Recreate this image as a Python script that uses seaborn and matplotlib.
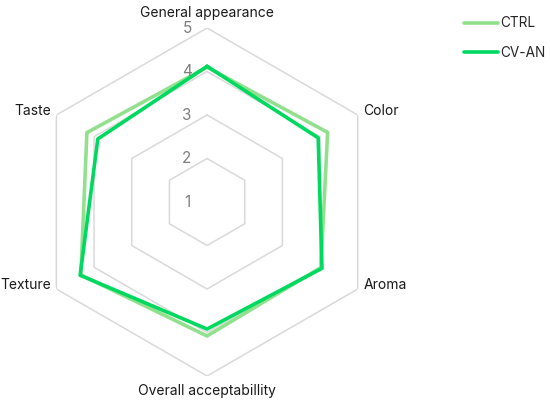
import numpy as np
import pandas as pd
import matplotlib
matplotlib.use('Agg')
import matplotlib.pyplot as plt
import matplotlib.transforms as mtransforms
import seaborn as sns

# attributes in clockwise order, starting at the top
attributes = ['General appearance', 'Color', 'Aroma',
              'Overall acceptabillity', 'Texture', 'Taste']
ctrl  = [4.10, 4.20, 4.02, 4.08, 4.35, 4.19]
cv_an = [4.12, 3.95, 4.05, 3.92, 4.37, 3.90]
rticks = [1, 2, 3, 4, 5]

CTRL_COLOR = '#92e08e'
CVAN_COLOR = '#00d95f'
GRID_COLOR = '#d9d9d9'

sns.set_style('white')
plt.rcParams['font.family'] = ['Inter', 'DejaVu Sans']

n = len(attributes)
theta = np.linspace(0, 2 * np.pi, n, endpoint=False)
theta_c = np.append(theta, theta[0])

df = pd.concat([
    pd.DataFrame({'theta': theta_c, 'score': ctrl + ctrl[:1], 'group': 'CTRL'}),
    pd.DataFrame({'theta': theta_c, 'score': cv_an + cv_an[:1], 'group': 'CV-AN'}),
])

fig = plt.figure(figsize=(5.5, 4.03), dpi=100)
ax = fig.add_axes([0.06, 0.067, 0.633, 0.8635], projection='polar')
ax.set_theta_offset(np.pi / 2)
ax.set_theta_direction(-1)
ax.set_ylim(1, 5)
ax.grid(False)
ax.spines['polar'].set_visible(False)
ax.set_xticks([])
ax.set_yticks([])

# hexagonal grid
for r in rticks[1:]:
    ax.plot(theta_c, [r] * (n + 1), color=GRID_COLOR, lw=1.1, zorder=1)

sns.lineplot(data=df, x='theta', y='score', hue='group', sort=False,
             estimator=None, palette={'CTRL': CTRL_COLOR, 'CV-AN': CVAN_COLOR},
             linewidth=2.6, ax=ax, legend=False, zorder=3)

# radial labels, just left of the top spoke
lbl_tr = mtransforms.offset_copy(ax.transData, fig=fig, x=-14.5, y=0, units='points')
for r in rticks:
    ax.text(0, r, str(r), transform=lbl_tr, ha='center', va='center',
            fontsize=11, color='#7f7f7f')

# category labels
for t, name in zip(theta, attributes):
    deg = np.degrees(t) % 360
    if deg == 0:
        ha, va, dx, dy = 'center', 'bottom', 0, 6
    elif deg == 180:
        ha, va, dx, dy = 'center', 'top', 0, -6
    elif deg < 180:
        ha, va, dx, dy = 'left', 'center', 4, 3
    else:
        ha, va, dx, dy = 'right', 'center', -4, 3
    tr = mtransforms.offset_copy(ax.transData, fig=fig, x=dx, y=dy, units='points')
    ax.text(t, 5, name, transform=tr, ha=ha, va=va, fontsize=10, color='#1a1a1a')

handles = [plt.Line2D([], [], color=CTRL_COLOR, lw=2.6),
           plt.Line2D([], [], color=CVAN_COLOR, lw=2.6)]
fig.legend(handles, ['CTRL', 'CV-AN'], loc='upper left',
           bbox_to_anchor=(0.822, 0.99), frameon=False, fontsize=9.8,
           handlelength=2.5, handletextpad=0.15, labelspacing=1.15)

fig.savefig('out.png', dpi=100)
